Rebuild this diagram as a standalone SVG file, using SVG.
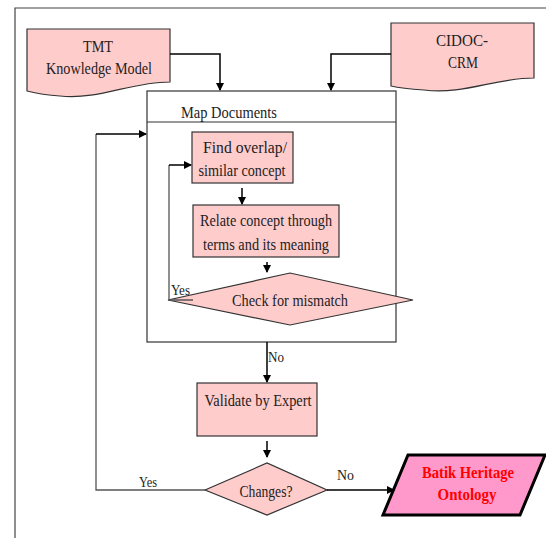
<svg xmlns="http://www.w3.org/2000/svg" width="546" height="538" viewBox="0 0 546 538">
<style>
.box{fill:#ffcccc;stroke:#333;stroke-width:1.2}
.frame{fill:none;stroke:#444;stroke-width:1.2}
.ln{fill:none;stroke:#000;stroke-width:1.5}
.gl{fill:none;stroke:#555;stroke-width:1.3}
text{font-family:"Liberation Serif","Times New Roman",serif;font-size:16.5px;fill:#222;text-anchor:middle}
.lbl{font-size:14px;text-anchor:start}
.out{fill:#ff0000;font-weight:bold;font-size:16.5px}
</style>
<defs>
<marker id="ah" markerWidth="8" markerHeight="8" refX="7" refY="4" orient="auto" markerUnits="userSpaceOnUse">
<path d="M0,0 L8,4 L0,8 Z" fill="#000"/>
</marker>
</defs>
<rect width="546" height="538" fill="#fff"/>
<path class="frame" d="M15,538 V8 H546"/>
<g id="tmt">
<path class="box" d="M27,29 H170 V82 C130,82 100,100 60,96 C45,95 35,93 27,91 Z"/>
<text x="98" y="52" textLength="30" lengthAdjust="spacingAndGlyphs">TMT</text>
<text x="99" y="74" textLength="106" lengthAdjust="spacingAndGlyphs">Knowledge Model</text>
</g>
<g id="cidoc">
<path class="box" d="M391,23 H534 V78 C494,78 464,95 424,90 C410,89 400,88 391,86 Z"/>
<text x="462" y="46" textLength="52" lengthAdjust="spacingAndGlyphs">CIDOC-</text>
<text x="463" y="68" textLength="30" lengthAdjust="spacingAndGlyphs">CRM</text>
</g>
<g id="map">
<rect x="147" y="91" width="249" height="251" fill="#fff" stroke="#333" stroke-width="1.2"/>
<line x1="147" y1="122" x2="396" y2="122" stroke="#333" stroke-width="1.2"/>
<text x="181" y="118" style="text-anchor:start" textLength="96" lengthAdjust="spacingAndGlyphs">Map Documents</text>
</g>
<g id="find">
<rect class="box" x="192" y="132" width="101" height="51"/>
<text x="245" y="153" textLength="84" lengthAdjust="spacingAndGlyphs">Find overlap/</text>
<text x="242" y="176" textLength="87" lengthAdjust="spacingAndGlyphs">similar concept</text>
</g>
<g id="relate">
<rect class="box" x="193" y="205" width="146" height="52"/>
<text x="266" y="226" textLength="132" lengthAdjust="spacingAndGlyphs">Relate concept through</text>
<text x="266" y="250" textLength="126" lengthAdjust="spacingAndGlyphs">terms and its meaning</text>
</g>
<g id="check">
<path class="box" d="M168,300 L290,273 L413,300 L290,325 Z"/>
<text x="290" y="306" textLength="116" lengthAdjust="spacingAndGlyphs">Check for mismatch</text>
</g>
<g id="validate">
<rect class="box" x="197" y="383" width="120" height="53"/>
<text x="258" y="406" textLength="107" lengthAdjust="spacingAndGlyphs">Validate by Expert</text>
</g>
<g id="changes">
<path class="box" d="M205,490 L267,463 L327,490 L267,515 Z"/>
<text x="266" y="497" textLength="53" lengthAdjust="spacingAndGlyphs">Changes?</text>
</g>
<g id="batik">
<path d="M408,455 H545 L520,515 H383 Z" fill="#ff99cc" stroke="#000" stroke-width="3"/>
<text class="out" x="468" y="478" textLength="92" lengthAdjust="spacingAndGlyphs">Batik Heritage</text>
<text class="out" x="467" y="500" textLength="59" lengthAdjust="spacingAndGlyphs">Ontology</text>
</g>
<g id="connectors">
<path class="ln" d="M170,54 H220 V90" marker-end="url(#ah)"/>
<path class="ln" d="M391,54 H331 V90" marker-end="url(#ah)"/>
<path class="ln" d="M242,188 V204" marker-end="url(#ah)"/>
<path class="ln" d="M267,262 V272" marker-end="url(#ah)"/>
<path class="gl" d="M193,300 H169 V165"/>
<path class="ln" d="M169,165 H191" marker-end="url(#ah)"/>
<path class="ln" d="M267,342 V382" marker-end="url(#ah)"/>
<path class="ln" d="M267,441 V457" marker-end="url(#ah)"/>
<path class="gl" d="M205,490 H96 V134"/>
<path class="ln" d="M96,134 H146" marker-end="url(#ah)"/>
<path class="ln" d="M327,490 H394" marker-end="url(#ah)"/>
<text class="lbl" x="171" y="295" textLength="19" lengthAdjust="spacingAndGlyphs">Yes</text>
<text class="lbl" x="268" y="362" textLength="16" lengthAdjust="spacingAndGlyphs">No</text>
<text class="lbl" x="139" y="487" textLength="18" lengthAdjust="spacingAndGlyphs">Yes</text>
<text class="lbl" x="337" y="480" textLength="17" lengthAdjust="spacingAndGlyphs">No</text>
</g>
</svg>
